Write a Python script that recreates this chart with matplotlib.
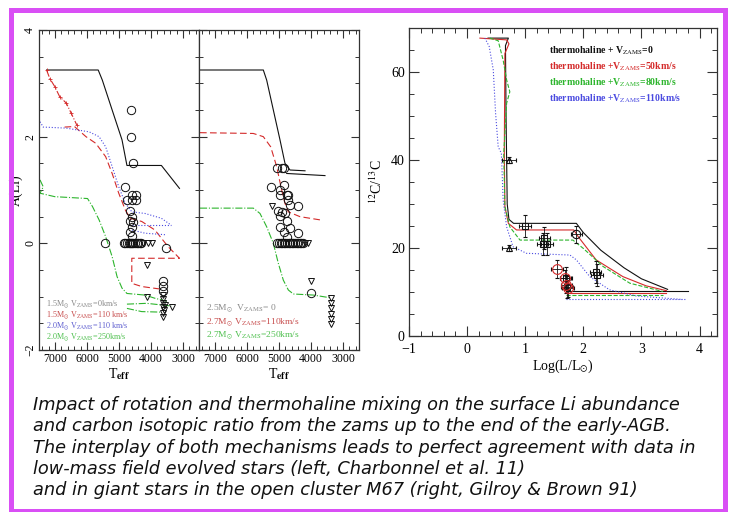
import matplotlib
matplotlib.use("Agg")
import matplotlib.pyplot as plt
from matplotlib.patches import Rectangle
from matplotlib.ticker import MultipleLocator

plt.rcParams["font.family"] = ["Liberation Serif", "DejaVu Serif"]
plt.rcParams["mathtext.fontset"] = "stix"

# ---- left panel: A(Li) vs Teff, 1.5 / 2.0 Msun ----
p1_black_T = [7264, 5650, 5521, 5214, 4906, 4752, 3675, 3110]
p1_black_A = [3.25, 3.25, 3.06, 2.5, 1.94, 1.46, 1.46, 1.03]
p1_red1_T = [7264, 7162, 7008, 6854, 6648, 6494, 6320]
p1_red1_A = [3.25, 3.09, 2.94, 2.75, 2.63, 2.44, 2.22]
p1_red2_T = [6700, 6392, 6032, 5725, 5417, 5214, 5008, 4802, 4648, 4290, 3878, 3469, 3110, 4600, 4600, 4290, 3675]
p1_red2_A = [2.18, 2.19, 2.0, 1.875, 1.625, 1.31, 0.94, 0.625, 0.47, 0.41, 0.25, -0.06, -0.28, -0.28, -0.75, -0.81, -0.86]
p1_blue_T = [7469, 7367, 6648, 5931, 5623, 5417, 5214, 5008, 4802, 4597, 4187, 3675, 3367]
p1_blue_A = [2.28, 2.18, 2.16, 2.09, 2.0, 1.81, 1.44, 1.06, 0.75, 0.59, 0.56, 0.47, 0.34]
p1_blue2_T = [4597, 3367]
p1_blue2_A = [0.34, 0.34]
p1_blue3_T = [4597, 4187, 3520]
p1_blue3_A = [0.25, 0.19, 0.16]
p1_green_T = [7469, 7367, 7469, 7008, 5983, 5829, 5623, 5417, 5214, 5060, 4906, 4752, 4187, 3878, 3469]
p1_green_A = [1.19, 1.06, 0.94, 0.875, 0.84, 0.69, 0.44, 0.125, -0.25, -0.625, -0.84, -0.94, -0.97, -1.03, -1.09]
p1_green2_T = [4752, 4136, 3367]
p1_green2_A = [-1.14, -1.125, -1.175]
p1_green3_T = [4752, 4290, 3675]
p1_green3_A = [-1.22, -1.28, -1.29]
p1_circ_T = [4620, 4620, 4570, 5450, 4820, 4600, 4470, 4740, 4600, 4470, 4650, 4600, 4650, 4600,
             4650, 4600, 4560, 4850, 4800, 4750, 4700, 4650, 4620, 4580, 4550, 4500, 4450, 4400,
             4350, 4300, 3540, 3640, 3640, 3640]
p1_circ_A = [2.5, 2.0, 1.5, 0.0, 1.05, 0.91, 0.91, 0.81, 0.81, 0.81, 0.61, 0.5, 0.41, 0.31,
             0.22, 0.13, 0.4, 0, 0, 0, 0, 0, 0, 0, 0, 0, 0, 0, 0, 0, -0.09, -0.7, -0.8, -0.89]
p1_tri_T = [4240, 4100, 3960, 4140, 4140, 3640, 3640, 3640, 3640, 3640, 3580, 3550, 3350, 3640]
p1_tri_A = [0, 0, 0, -0.41, -1.0, -0.97, -1.05, -1.12, -1.2, -1.3, -1.25, -1.15, -1.2, -1.38]

# ---- middle panel: 2.5 / 2.7 Msun ----
p2_black_T = [7469, 5490, 5385, 5177, 4969, 4813, 4656, 4187]
p2_black_A = [3.25, 3.25, 3.06, 2.5, 1.94, 1.5, 1.375, 1.36]
p2_black2_T = [4760, 3563]
p2_black2_A = [1.31, 1.27]
p2_red_T = [7469, 5802, 5490, 5260, 5073, 4917, 4813, 4708, 4344, 3719]
p2_red_A = [2.075, 2.06, 2.0, 1.81, 1.44, 1.0, 0.75, 0.59, 0.5, 0.44]
p2_green_T = [7469, 5802, 5594, 5385, 5177, 5021, 4865, 4708, 4552, 3927, 3406]
p2_green_A = [0.66, 0.66, 0.56, 0.31, 0.0, -0.375, -0.69, -0.875, -0.95, -0.97, -1.02]
p2_circ_T = [5073, 4917, 4844, 5260, 4850, 4969, 4760, 4708, 4969, 4708, 4656, 5030, 4917, 4813,
             4969, 4740, 4969, 4656, 4844, 4760, 4396, 4417,
             5073, 5000, 4950, 4900, 4850, 4800, 4750, 4700, 4650, 4600, 4550, 4500, 4450, 4400,
             4350, 4300, 4250, 4010]
p2_circ_A = [1.41, 1.41, 1.41, 1.06, 1.1, 1.0, 0.91, 0.91, 0.91, 0.81, 0.72, 0.61, 0.59, 0.56,
             0.51, 0.41, 0.31, 0.28, 0.22, 0.11, 0.2, 0.7,
             0, 0, 0, 0, 0, 0, 0, 0, 0, 0, 0, 0, 0, 0, 0, 0, 0, -0.94]
p2_tri_T = [5230, 4190, 4100, 4010, 3375, 3375, 3375, 3375, 3375, 3375]
p2_tri_A = [0.7, 0.0, 0.0, -0.7, -1.02, -1.12, -1.22, -1.32, -1.42, -1.52]

# ---- right panel: 12C/13C vs log L ----
c_black_L = [0.36, 0.71, 0.66, 0.67, 0.69, 0.72, 0.8, 1.88, 2.0, 2.3, 2.7, 3.0, 3.45]
c_black_R = [67.7, 67.7, 66, 50, 30, 26.5, 25.6, 25.6, 23.5, 19.5, 15.5, 13.0, 10.6]
c_black2_L = [1.7, 3.8]
c_black2_R = [10.2, 10.2]
c_red_L = [0.22, 0.68, 0.72, 0.65, 0.64, 0.65, 0.71, 0.85, 1.835, 1.91, 2.22, 2.68, 3.08, 3.43]
c_red_R = [67.7, 67.3, 66.4, 64.2, 41.5, 29.4, 25.6, 24.1, 24.1, 22.6, 17.3, 13.5, 11.4, 10.3]
c_red2_L = [1.71, 3.43]
c_red2_R = [9.85, 9.85]
c_green_L = [0.39, 0.535, 0.62, 0.68, 0.735, 0.68, 0.63, 0.65, 0.735, 0.91, 1.82, 2.0, 2.34, 2.8, 3.37]
c_green_R = [67.7, 67.1, 62.7, 58.2, 55.5, 52.9, 41.5, 29.4, 24.8, 21.8, 21.8, 19.9, 15.8, 12.0, 10.1]
c_green2_L = [1.71, 3.37]
c_green2_R = [9.3, 9.3]
c_blue_L = [0.306, 0.38, 0.45, 0.49, 0.535, 0.59, 0.62, 0.68, 0.79, 1.02, 1.77, 1.88, 2.11, 2.45, 2.91, 3.71]
c_blue_R = [67.7, 65.8, 60.5, 50.6, 43.0, 41.5, 30.9, 24.8, 20.3, 18.8, 18.4, 17.3, 13.5, 10.5, 9.1, 8.3]
c_blue2_L = [1.71, 3.77]
c_blue2_R = [8.5, 8.5]

obs_tri_L = [0.72, 0.72]
obs_tri_R = [40, 20]
obs_sq_L = [1.0, 1.33, 1.38, 1.3, 2.21, 2.23, 1.70, 1.72]
obs_sq_R = [25.1, 22.2, 21.0, 21.0, 14.6, 13.8, 13.1, 11.2]
obs_circ_L = [1.88]
obs_circ_R = [23.1]
obs_red_L = [1.55, 1.69, 1.71, 1.74]
obs_red_R = [15.2, 13.1, 11.7, 10.8]

caption = [
    "Impact of rotation and thermohaline mixing on the surface Li abundance",
    "and carbon isotopic ratio from the zams up to the end of the early-AGB.",
    "The interplay of both mechanisms leads to perfect agreement with data in",
    "low-mass field evolved stars (left, Charbonnel et al. 11)",
    "and in giant stars in the open cluster M67 (right, Gilroy & Brown 91)",
]

BLACK = "#111111"
RED = "#d42a2a"
GREEN = "#2db52d"
BLUE = "#4a4ae0"

fig = plt.figure(figsize=(7.31, 5.12), dpi=100)
W, H = 731.0, 512.0


def ax_px(x0, y0, x1, y1):
    return fig.add_axes([x0 / W, 1 - y1 / H, (x1 - x0) / W, (y1 - y0) / H])


def style_li(ax, show_y):
    ax.set_xlim(7500, 2500)
    ax.set_ylim(-2, 4)
    ax.xaxis.set_major_locator(MultipleLocator(1000))
    ax.xaxis.set_minor_locator(MultipleLocator(200))
    ax.yaxis.set_major_locator(MultipleLocator(2))
    ax.yaxis.set_minor_locator(MultipleLocator(0.5))
    ax.tick_params(which="both", direction="in", top=True, right=True, labelsize=8.5,
                   color="#333333", pad=2)
    ax.tick_params(which="major", length=6, width=0.8)
    ax.tick_params(which="minor", length=3, width=0.7)
    if show_y:
        for lab in ax.get_yticklabels():
            lab.set_rotation(90)
            lab.set_va("center")
    else:
        ax.tick_params(labelleft=False)
    for s in ax.spines.values():
        s.set_color("#333333")
        s.set_linewidth(0.9)
    ax.set_xlabel("T$_{\\mathbf{eff}}$", fontsize=10, labelpad=1)


lw = 0.8
ms_c = 6
ms_t = 4

# left panel
ax1 = ax_px(39, 30, 199, 350)
ax1.plot(p1_black_T, p1_black_A, color=BLACK, lw=lw)
ax1.plot(p1_red1_T, p1_red1_A, color=RED, lw=lw, ls="-.", marker="+", ms=3, mew=0.6)
ax1.plot(p1_red2_T, p1_red2_A, color=RED, lw=lw, ls=(0, (6, 3)))
ax1.plot(p1_blue_T, p1_blue_A, color=BLUE, lw=lw, ls=":")
ax1.plot(p1_blue2_T, p1_blue2_A, color=BLUE, lw=lw, ls=":")
ax1.plot(p1_blue3_T, p1_blue3_A, color=BLUE, lw=lw, ls=":")
ax1.plot(p1_green_T, p1_green_A, color=GREEN, lw=lw, ls="-.")
ax1.plot(p1_green2_T, p1_green2_A, color=GREEN, lw=lw, ls="-.")
ax1.plot(p1_green3_T, p1_green3_A, color=GREEN, lw=lw, ls="-.")
ax1.plot(p1_circ_T, p1_circ_A, ls="none", marker="o", ms=ms_c, mfc="none", mec=BLACK, mew=0.7)
ax1.plot(p1_tri_T, p1_tri_A, ls="none", marker="v", ms=ms_t, mfc="none", mec=BLACK, mew=0.7)
style_li(ax1, True)
ax1.set_ylabel("A(Li)", fontsize=10)
ax1.yaxis.set_label_coords(-0.1, 0.5)
leg1 = [("1.5M$_{\\odot}$ V$_{\\rm ZAMS}$=0km/s", "#8a8a8a"),
        ("1.5M$_{\\odot}$ V$_{\\rm ZAMS}$=110 km/s", "#c85050"),
        ("2.0M$_{\\odot}$ V$_{\\rm ZAMS}$=110 km/s", "#6060d0"),
        ("2.0M$_{\\odot}$ V$_{\\rm ZAMS}$=250km/s", "#50c050")]
for i, (t, c) in enumerate(leg1):
    ax1.text(0.045, 0.143 - i * 0.0345, t, transform=ax1.transAxes, color=c, fontsize=5.9,
             va="center", ha="left")

# middle panel
ax2 = ax_px(199, 30, 359, 350)
ax2.plot(p2_black_T, p2_black_A, color=BLACK, lw=lw)
ax2.plot(p2_black2_T, p2_black2_A, color=BLACK, lw=lw)
ax2.plot(p2_red_T, p2_red_A, color=RED, lw=lw, ls=(0, (6, 3)))
ax2.plot(p2_green_T, p2_green_A, color=GREEN, lw=lw, ls="-.")
ax2.plot(p2_circ_T, p2_circ_A, ls="none", marker="o", ms=ms_c, mfc="none", mec=BLACK, mew=0.7)
ax2.plot(p2_tri_T, p2_tri_A, ls="none", marker="v", ms=ms_t, mfc="none", mec=BLACK, mew=0.7)
style_li(ax2, False)
leg2 = [("2.5M$_{\\odot}$  V$_{\\rm ZAMS}$= 0", "#8a8a8a"),
        ("2.7M$_{\\odot}$ V$_{\\rm ZAMS}$=110km/s", "#c85050"),
        ("2.7M$_{\\odot}$ V$_{\\rm ZAMS}$=250km/s", "#50c050")]
for i, (t, c) in enumerate(leg2):
    ax2.text(0.045, 0.13 - i * 0.042, t, transform=ax2.transAxes, color=c, fontsize=6.8,
             va="center", ha="left")

# right panel
ax3 = ax_px(409, 28, 717, 336)
ax3.plot(c_black_L, c_black_R, color=BLACK, lw=lw)
ax3.plot(c_black2_L, c_black2_R, color=BLACK, lw=lw)
ax3.plot(c_red_L, c_red_R, color=RED, lw=lw)
ax3.plot(c_red2_L, c_red2_R, color=RED, lw=lw)
ax3.plot(c_green_L, c_green_R, color=GREEN, lw=lw, ls="--")
ax3.plot(c_green2_L, c_green2_R, color=GREEN, lw=lw, ls="--")
ax3.plot(c_blue_L, c_blue_R, color=BLUE, lw=lw, ls=":")
ax3.plot(c_blue2_L, c_blue2_R, color=BLUE, lw=lw, ls=":")
eb = dict(ls="none", ecolor=BLACK, elinewidth=0.6, capsize=1.5, capthick=0.6, mew=0.8)
ax3.errorbar(obs_tri_L, obs_tri_R, xerr=0.12, yerr=0.6, marker="^", ms=5, mfc="none", mec=BLACK, **eb)
ax3.errorbar(obs_sq_L, obs_sq_R, xerr=0.1, yerr=2.5, marker="s", ms=5, mfc="none", mec=BLACK, **eb)
ax3.errorbar(obs_circ_L, obs_circ_R, xerr=0.1, yerr=2.0, marker="o", ms=6, mfc="none", mec=BLACK, **eb)
ax3.errorbar(obs_red_L, obs_red_R, xerr=0.1, yerr=2.0, marker="o", ms=7, mfc="none", mec=RED, **eb)
ax3.set_xlim(-1, 4.3)
ax3.set_ylim(0, 70)
ax3.xaxis.set_major_locator(MultipleLocator(1))
ax3.xaxis.set_minor_locator(MultipleLocator(0.2))
ax3.yaxis.set_major_locator(MultipleLocator(20))
ax3.yaxis.set_minor_locator(MultipleLocator(5))
ax3.tick_params(which="both", direction="in", top=True, right=True, labelsize=10,
                color="#333333", pad=3)
ax3.tick_params(axis="x", pad=5)
ax3.tick_params(which="major", length=7, width=0.8)
ax3.tick_params(which="minor", length=3.5, width=0.7)
for s in ax3.spines.values():
    s.set_color("#333333")
    s.set_linewidth(0.9)
ax3.set_xlabel("Log(L/L$_{\\odot}$)", fontsize=10, labelpad=1)
ax3.set_ylabel("$^{12}$C/$^{13}$C", fontsize=10, labelpad=4)
leg3 = [("thermohaline + V$_{\\rm ZAMS}$=0", BLACK),
        ("thermohaline +V$_{\\rm ZAMS}$=50km/s", RED),
        ("thermohaline +V$_{\\rm ZAMS}$=80km/s", GREEN),
        ("thermohaline +V$_{\\rm ZAMS}$=110km/s", BLUE)]
for i, (t, c) in enumerate(leg3):
    ax3.text(0.455, 0.925 - i * 0.052, t, transform=ax3.transAxes, color=c, fontsize=7,
             fontweight="bold", va="center", ha="left")

# caption
for i, line in enumerate(caption):
    fig.text(33 / W, 1 - (405 + i * 21.3) / H, line, fontsize=12.8, style="italic",
             family="DejaVu Sans", va="center", ha="left", color="#111111")

# slide border
fig.add_artist(Rectangle((10.5 / W, 1 - 511 / H), (725 - 10.5) / W, (511 - 9.5) / H,
                         transform=fig.transFigure, fill=False, ec="#d94ff5", lw=3.6))

fig.savefig("out.png", dpi=100)
